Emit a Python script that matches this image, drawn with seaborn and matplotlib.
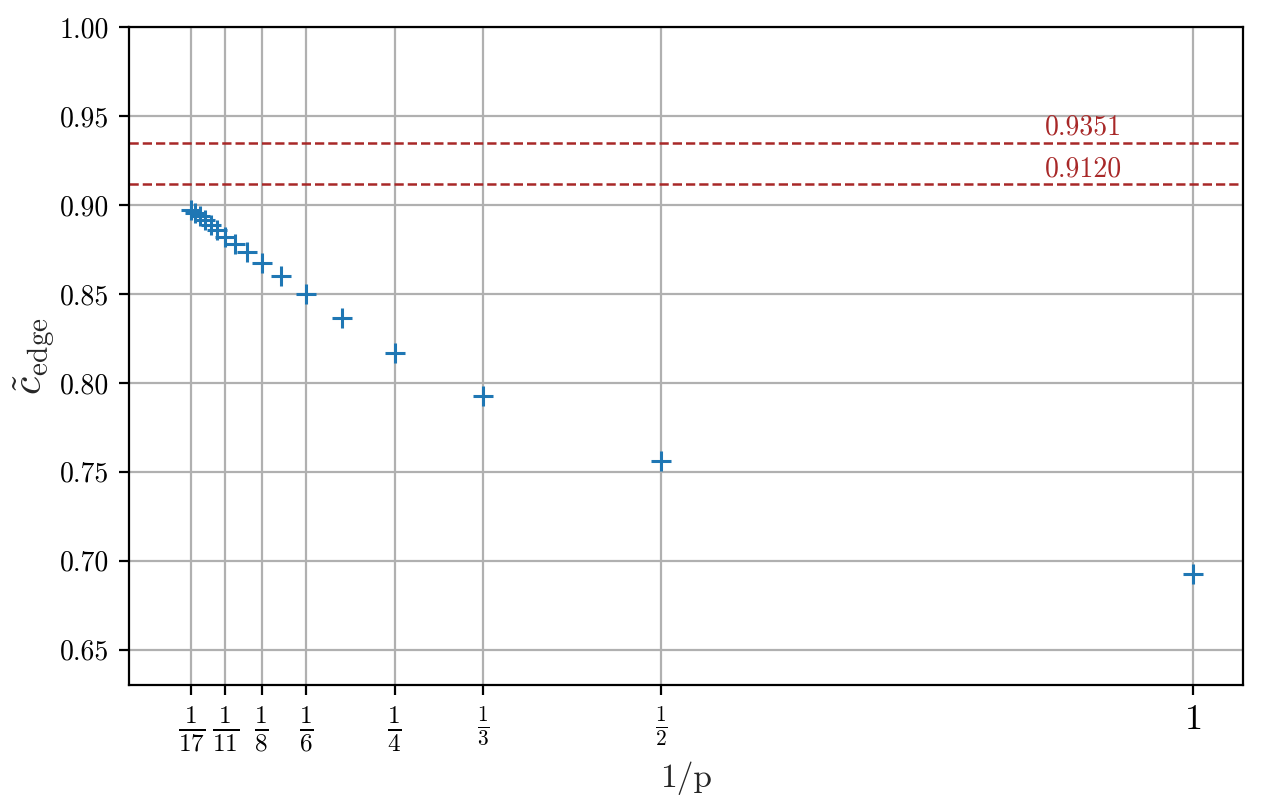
import numpy as np
import pandas as pd
import matplotlib
matplotlib.use("Agg")
import matplotlib.pyplot as plt
import seaborn as sns

# values
p_values = list(range(1, 18))
c_edge = [0.6925, 0.7562, 0.7927, 0.8169, 0.8365, 0.8500, 0.8603, 0.8677,
          0.8736, 0.8781, 0.8823, 0.8858, 0.8889, 0.8914, 0.8937, 0.8956, 0.8973]
ref_values = [0.9351, 0.9120]
ref_labels = ["0.9351", "0.9120"]
tick_p = [17, 11, 8, 6, 4, 3, 2, 1]
tick_labels = [r"$\frac{1}{17}$", r"$\frac{1}{11}$", r"$\frac{1}{8}$", r"$\frac{1}{6}$",
               r"$\frac{1}{4}$", r"$\frac{1}{3}$", r"$\frac{1}{2}$", r"$1$"]
y_ticks = [0.65, 0.70, 0.75, 0.80, 0.85, 0.90, 0.95, 1.00]

df = pd.DataFrame({"inv_p": [1 / p for p in p_values], "c_edge": c_edge})

sns.set_theme(style="ticks")
plt.rcParams["font.family"] = ["cmr10", "DejaVu Serif"]
plt.rcParams["mathtext.fontset"] = "cm"
plt.rcParams["axes.formatter.use_mathtext"] = True
plt.rcParams["axes.edgecolor"] = "black"
plt.rcParams["axes.linewidth"] = 0.8
plt.rcParams["xtick.color"] = "black"
plt.rcParams["ytick.color"] = "black"

fig = plt.figure(figsize=(6.31, 4.025), dpi=200)
ax = fig.add_axes([0.102, 0.149, 0.883, 0.817])

ax.grid(True, color="#b0b0b0", linewidth=0.8)
ax.set_axisbelow(True)

sns.scatterplot(data=df, x="inv_p", y="c_edge", marker="+", s=55,
                color="#1f77b4", linewidth=1.1, ax=ax, zorder=3)

for val, lab in zip(ref_values, ref_labels):
    ax.axhline(val, ls="--", color="#a82828", lw=0.9, zorder=2)
    ax.text(0.897, val + 0.001, lab, color="#a82828", ha="center", va="bottom",
            fontsize=10)

ax.set_xticks([1 / p for p in tick_p])
ax.set_xticklabels(tick_labels)
for lab, p in zip(ax.get_xticklabels(), tick_p):
    if p in (2, 3):
        lab.set_fontsize(11)
    else:
        lab.set_fontsize(13)
ax.set_yticks(y_ticks)
ax.set_yticklabels([f"{v:.2f}" for v in y_ticks], fontsize=10)

ax.set_xlim(0, 1.047)
ax.set_ylim(0.63, 1.0)
ax.set_xlabel("1/p", fontsize=12, labelpad=2)
ax.set_ylabel(r"$\tilde{c}_{\mathrm{edge}}$", fontsize=15, labelpad=1)
ax.tick_params(direction="out", length=3.5, width=0.8)

fig.savefig("out.png", dpi=200)
